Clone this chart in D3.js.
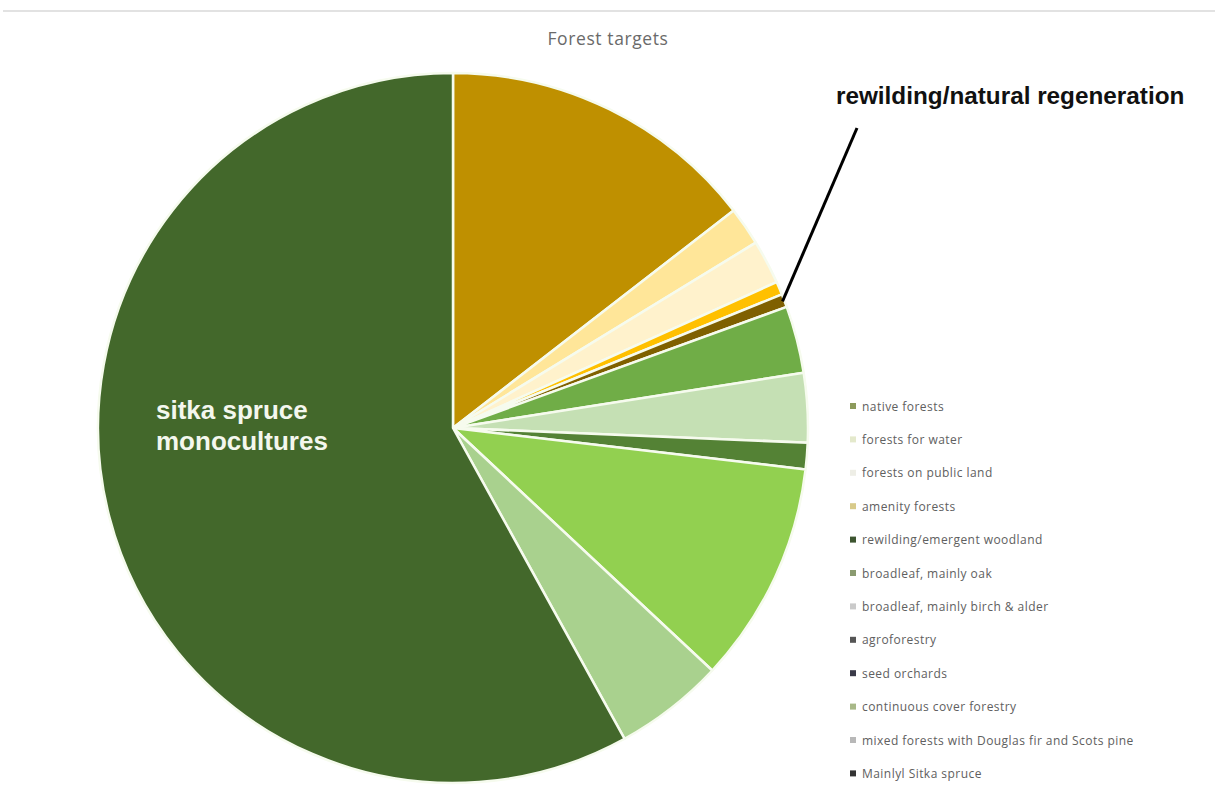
<!DOCTYPE html>
<html>
<head>
<meta charset="utf-8">
<script src="https://cdn.jsdelivr.net/npm/d3@7"></script>
<style>
  body { margin: 0; background: #fff; }
  svg { display: block; }
</style>
</head>
<body>
<div id="chart"></div>
<script>
const categories = [
  "native forests",
  "forests for water",
  "forests on public land",
  "amenity forests",
  "rewilding/emergent woodland",
  "broadleaf, mainly oak",
  "broadleaf, mainly birch & alder",
  "agroforestry",
  "seed orchards",
  "continuous cover forestry",
  "mixed forests with Douglas fir and Scots pine",
  "Mainlyl Sitka spruce"
];
const shares = [14.5, 1.75, 2.0, 0.6, 0.6, 3.05, 3.15, 1.2, 0, 10.1, 5.0, 58.0];
const sliceColors = ["#bf9000", "#ffe699", "#fff2cc", "#ffc000", "#7f6000", "#70ad47",
  "#c5e0b4", "#548235", "#333f50", "#92d050", "#a9d18e", "#43682b"];
const legendColors = ["#8c9a5b", "#e4e9cc", "#eeeee6", "#d8ca8a", "#3d5530", "#8a9a70",
  "#cacaca", "#555555", "#3a3a48", "#a8b888", "#b8b8b8", "#333333"];

const width = 1215, height = 793;
const cx = 453, cy = 428, radius = 355;

const svg = d3.select("#chart")
  .append("svg")
  .attr("width", width)
  .attr("height", height);

// thin frame line at the top
svg.append("line")
  .attr("x1", 3).attr("x2", width)
  .attr("y1", 11).attr("y2", 11)
  .attr("stroke", "#d9d9d9").attr("stroke-width", 1.5);

svg.append("text")
  .attr("x", 608).attr("y", 45)
  .attr("text-anchor", "middle")
  .attr("font-family", "'Open Sans', sans-serif")
  .attr("font-size", 17.5)
  .attr("letter-spacing", 0.6)
  .attr("fill", "#6a6a6a")
  .text("Forest targets");

const data = categories.map((c, i) => ({ name: c, value: shares[i], i }));

const pie = d3.pie().sort(null).value(d => d.value);
const arc = d3.arc().innerRadius(0).outerRadius(radius);

svg.append("g")
  .attr("transform", `translate(${cx},${cy})`)
  .selectAll("path")
  .data(pie(data).filter(d => d.data.value > 0))
  .join("path")
  .attr("d", arc)
  .attr("fill", d => sliceColors[d.data.i])
  .attr("stroke", "#f6fbee")
  .attr("stroke-width", 2.5)
  .attr("stroke-linejoin", "round");

// label inside the big slice
svg.append("text")
  .attr("font-family", "'Liberation Sans', Arial, sans-serif")
  .attr("font-weight", "bold")
  .attr("font-size", 26)
  .attr("fill", "#f4f7ee")
  .selectAll("tspan")
  .data(["sitka spruce", "monocultures"])
  .join("tspan")
  .attr("x", 156)
  .attr("y", (d, i) => 419 + i * 30.5)
  .text(d => d);

// annotation for the rewilding slice
const rw = pie(data)[4];
const rwAngle = (rw.startAngle + rw.endAngle) / 2;
const rwX = cx + Math.sin(rwAngle) * (radius - 2);
const rwY = cy - Math.cos(rwAngle) * (radius - 2);

svg.append("line")
  .attr("x1", 857).attr("y1", 128)
  .attr("x2", rwX).attr("y2", rwY)
  .attr("stroke", "#000").attr("stroke-width", 3);

svg.append("text")
  .attr("x", 836).attr("y", 104)
  .attr("font-family", "'Liberation Sans', Arial, sans-serif")
  .attr("font-weight", "bold")
  .attr("font-size", 24.3)
  .attr("fill", "#111")
  .text("rewilding/natural regeneration");

// legend
const legend = svg.append("g")
  .selectAll("g")
  .data(data)
  .join("g")
  .attr("transform", (d, i) => `translate(850,${406 + i * 33.4})`);

legend.append("rect")
  .attr("x", 0).attr("y", -3)
  .attr("width", 6).attr("height", 6)
  .attr("fill", d => legendColors[d.i]);

legend.append("text")
  .attr("x", 12).attr("y", 4.5)
  .attr("font-family", "'Open Sans', sans-serif")
  .attr("font-size", 12)
  .attr("letter-spacing", 0.45)
  .attr("fill", "#606060")
  .text(d => d.name);
</script>
</body>
</html>
